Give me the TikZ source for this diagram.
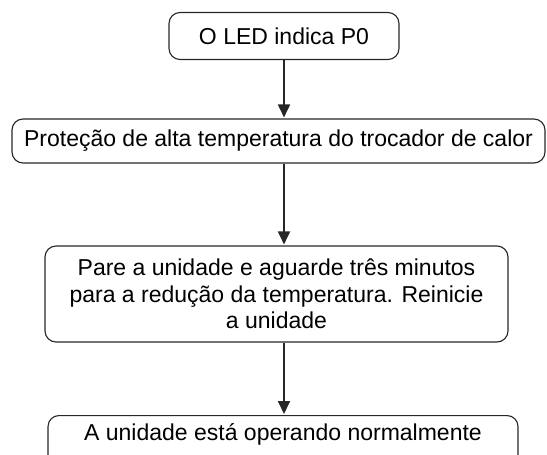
\documentclass[tikz,border=0pt]{standalone}
\usepackage{fontspec}
\setmainfont{Liberation Sans}
\usetikzlibrary{arrows.meta}
\begin{document}
\begin{tikzpicture}[x=1pt,y=1pt,
  box/.style={draw=black!85, line width=1.1pt, rounded corners=11pt, inner sep=0pt, align=center,
    font=\fontsize{23}{26.5}\selectfont},
  arr/.style={draw=black!85, line width=1.8pt, -{Triangle[width=12pt,length=13pt]}, shorten >=1pt}]
\useasboundingbox (0,0) rectangle (547,-455);
\clip (0,0) rectangle (547,-455);
\node[box, minimum width=230, minimum height=47] (b1) at (284,-36) {O LED indica P0};
\node[box, minimum width=533, minimum height=44] (b2) at (278.5,-141) {Proteção de alta temperatura do trocador de calor};
\node[box, minimum width=463, minimum height=96] (b3) at (276.5,-294) {Pare a unidade e aguarde três minutos\\para a redução da temperatura. Reinicie\\a unidade};
\node[box, minimum width=470, anchor=north, inner ysep=8pt, text height=16.5pt, text depth=40pt] (b4) at (283,-415) {A unidade está operando normalmente};
\coordinate (c1) at (284,-59);
\draw[arr] (b1.south -| c1) -- (b2.north -| c1);
\draw[arr] (b2.south -| c1) -- (b3.north -| c1);
\draw[arr] (b3.south -| c1) -- (b4.north -| c1);
\end{tikzpicture}
\end{document}
